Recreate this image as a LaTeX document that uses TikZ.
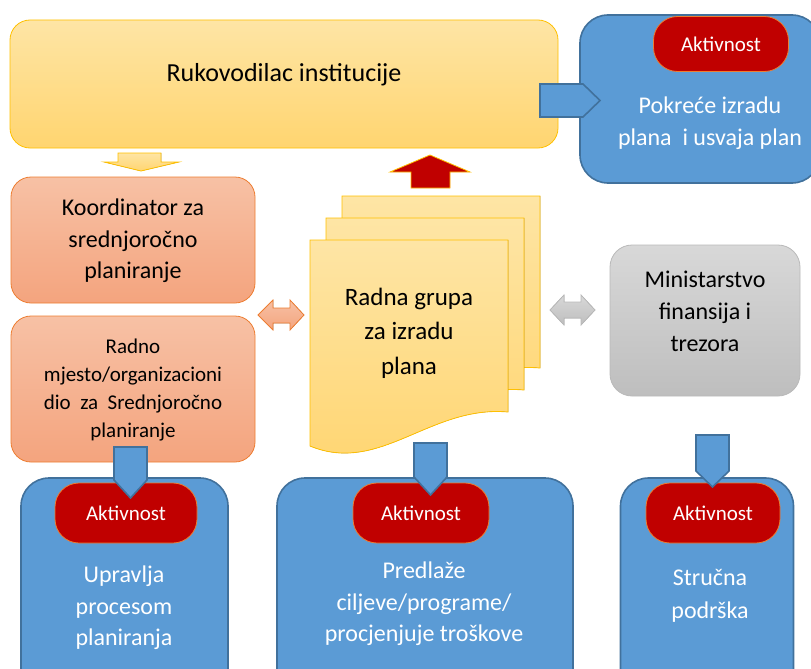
\documentclass[tikz,border=0pt]{standalone}
\usepackage{fontspec}
\setmainfont{Carlito}
\definecolor{yTop}{RGB}{254,229,165}
\definecolor{yBot}{RGB}{255,213,112}
\definecolor{yLine}{RGB}{255,192,0}
\definecolor{sTop}{RGB}{247,193,165}
\definecolor{sBot}{RGB}{244,164,126}
\definecolor{sLine}{RGB}{237,125,49}
\definecolor{gTop}{RGB}{216,216,216}
\definecolor{gBot}{RGB}{190,190,190}
\definecolor{gLine}{RGB}{185,185,185}
\definecolor{bFill}{RGB}{91,155,213}
\definecolor{bLine}{RGB}{65,113,156}
\definecolor{rFill}{RGB}{192,0,0}
\begin{document}
\begin{tikzpicture}[x=1pt,y=-1pt,
  ybox/.style={draw=yLine, line width=0.8pt, top color=yTop, bottom color=yBot, rounded corners=20},
  sbox/.style={draw=sLine, line width=0.8pt, top color=sTop, bottom color=sBot, rounded corners=20},
  gbox/.style={draw=gLine, line width=0.8pt, top color=gTop, bottom color=gBot, rounded corners=22},
  bbox/.style={draw=bLine, line width=1.6pt, fill=bFill, rounded corners=28},
  pill/.style={draw=sLine, line width=0.8pt, fill=rFill, rounded corners=24, text=white,
     font=\fontsize{21}{25}\selectfont},
  docshape/.style={draw=yLine, line width=0.8pt, top color=yTop, bottom color=yBot},
  barrow/.style={draw=bLine, line width=1.6pt, fill=bFill, line join=miter},
  txt/.style={align=center, inner sep=0pt, text=black},
  wtxt/.style={align=center, inner sep=0pt, text=white},
  f24/.style={font=\fontsize{24}{31.5}\selectfont},
]
\useasboundingbox (0,0) rectangle (811,669);
\clip (0,0) rectangle (811,669);

% top-right activity box
\node[bbox, minimum width=240, minimum height=168] (pok) at (700,99) {};
\node[pill, minimum width=135, minimum height=55] (akt0) at (721,44) {Aktivnost};

% Rukovodilac
\node[ybox, minimum width=548, minimum height=128] (ruk) at (284,84) {};

% pentagon arrow right
\filldraw[barrow] (540,84) -- (583,84) -- (600,100.5) -- (583,117) -- (540,117) -- cycle;

% yellow down arrow
\filldraw[draw=yLine, line width=0.8pt, top color=yTop, bottom color=yBot]
  (118,153) -- (161,153) -- (161,162) -- (179,162) -- (141,171) -- (104,162) -- (118,162) -- cycle;

% red up arrow
\filldraw[draw=yLine, line width=0.8pt, fill=rFill]
  (430,155) -- (470,172) -- (450,172) -- (450,188) -- (411,188) -- (411,172) -- (390,172) -- cycle;

% left boxes
\node[sbox, minimum width=244, minimum height=126] (koord) at (133,240) {};
\node[sbox, minimum width=244, minimum height=146] (radno) at (133,389) {};

% documents
\foreach \dx/\dy in {32/-44, 16/-22, 0/0}{
  \begin{scope}[shift={(\dx,\dy)}]
    \filldraw[docshape] (310,240) -- (508,240) -- (508,412)
      .. controls (430,405) and (380,475) .. (310,446) -- cycle;
  \end{scope}
}

% gray box
\node[gbox, minimum width=190, minimum height=151] (min) at (705,320.5) {};

% double arrows
\filldraw[draw=sLine, line width=0.8pt, top color=sTop, bottom color=sBot]
  (258,315) -- (273,300) -- (273,308) -- (290,308) -- (290,300) -- (304,315)
  -- (290,330) -- (290,323) -- (273,323) -- (273,330) -- cycle;
\filldraw[draw=gLine, line width=0.8pt, top color=gTop, bottom color=gBot]
  (550,310) -- (564,295) -- (564,302) -- (581,302) -- (581,295) -- (595,310)
  -- (581,325) -- (581,318) -- (564,318) -- (564,325) -- cycle;

% bottom boxes
\node[bbox, minimum width=207, minimum height=260] (b1) at (124.5,608) {};
\node[bbox, minimum width=296, minimum height=260] (b2) at (425,608) {};
\node[bbox, minimum width=173, minimum height=260] (b3) at (707,608) {};
\node[pill, minimum width=142, minimum height=60] (akt1) at (126,513) {Aktivnost};
\node[pill, minimum width=136, minimum height=60] (akt2) at (421,513) {Aktivnost};
\node[pill, minimum width=134, minimum height=60] (akt3) at (713,513) {Aktivnost};

% blue down pentagon arrows
\filldraw[barrow] (114,447) -- (147,447) -- (147,480) -- (130.5,498) -- (114,480) -- cycle;
\filldraw[barrow] (414,443) -- (447,443) -- (447,477) -- (430.5,495) -- (414,477) -- cycle;
\filldraw[barrow] (696,435) -- (729,435) -- (729,471) -- (712.5,487) -- (696,471) -- cycle;

% texts
\node[txt, font=\fontsize{26}{31}\selectfont] (rukT) at (284,75) {Rukovodilac institucije};
\node[wtxt, f24] (pokT) at (710,123) {Pokreće izradu\\plana \ i usvaja plan};
\node[txt, f24] (koordT) at (133,241) {Koordinator za\\srednjoročno\\planiranje};
\node[txt, font=\fontsize{21}{28}\selectfont] (radnoT) at (133,390)
  {Radno\\mjesto/organizacioni\\dio \ za \ Srednjoročno\\planiranje};
\node[txt, font=\fontsize{25}{34.5}\selectfont] (grupaT) at (409,333) {Radna grupa\\za izradu\\plana};
\node[txt, font=\fontsize{24}{32}\selectfont] (minT) at (705,311) {Ministarstvo\\finansija i\\trezora};
\node[wtxt, f24] (b1T) at (124,608) {Upravlja\\procesom\\planiranja};
\node[wtxt, f24] (b2T) at (424,604) {Predlaže\\ciljeve/programe/\\procjenjuje troškove};
\node[wtxt, font=\fontsize{24}{33}\selectfont] (b3T) at (710,596) {Stručna\\podrška};
\end{tikzpicture}
\end{document}
